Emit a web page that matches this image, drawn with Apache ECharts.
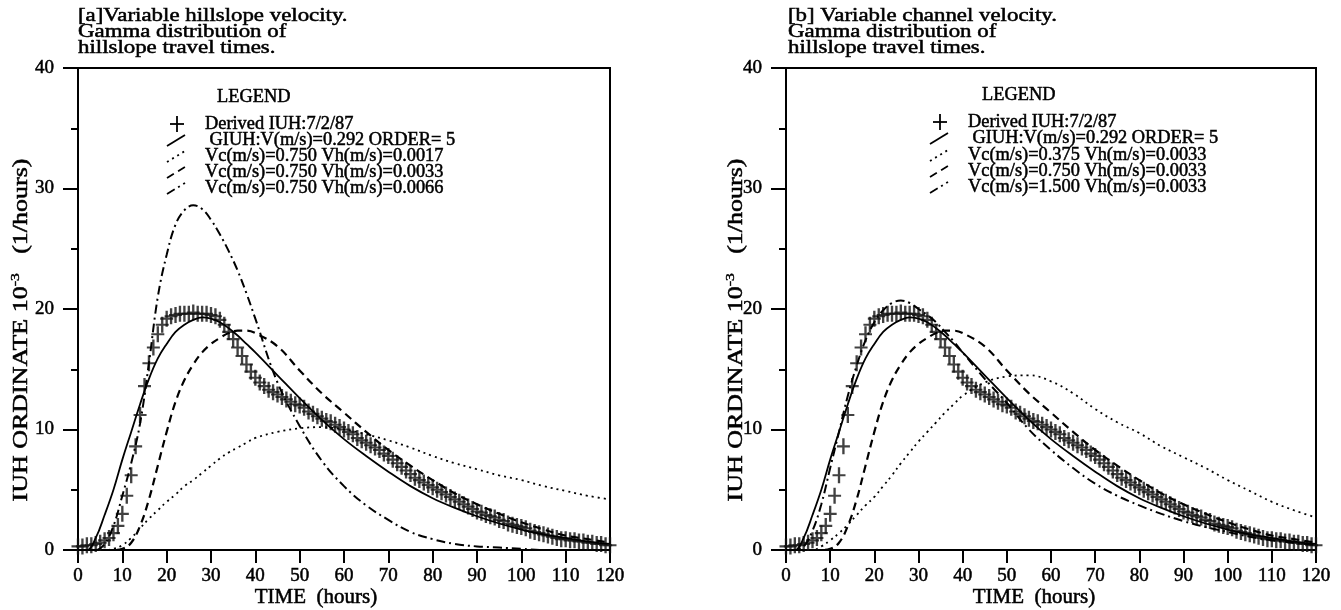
<!DOCTYPE html>
<html><head><meta charset="utf-8">
<script src="https://cdn.jsdelivr.net/npm/echarts@6/dist/echarts.min.js"></script>
<style>html,body{margin:0;padding:0;background:#fff}#c{width:1341px;height:610px}</style>
</head><body><div id="c"></div><script>
// ---- data ----
const derivedTimes = [0,1,2,3,4,5,6,7,8,9,10,11,12,13,14,15,16,17,18,19,20,21,22,23,24,25,26,27,28,29,30,31,32,33,34,35,36,37,38,39,40,41,42,43,44,45,46,47,48,49,50,51,52,53,54,55,56,57,58,59,60,61,62,63,64,65,66,67,68,69,70,71,72,73,74,75,76,77,78,79,80,81,82,83,84,85,86,87,88,89,90,91,92,93,94,95,96,97,98,99,100,101,102,103,104,105,106,107,108,109,110,111,112,113,114,115,116,117,118,119,120];
const derivedIUH = [0.3,0.3,0.4,0.4,0.5,0.6,0.8,1.0,1.4,2.0,
  3.0,4.5,6.2,8.6,11.2,13.6,15.5,16.8,17.9,18.7,
  19.2,19.4,19.5,19.6,19.6,19.6,19.7,19.6,19.6,19.6,
  19.5,19.4,19.1,18.7,18.1,17.5,16.8,16.1,15.4,14.8,
  14.3,13.9,13.6,13.3,13.1,12.9,12.7,12.5,12.3,12.1,
  12.0,11.8,11.5,11.3,11.1,10.9,10.7,10.6,10.4,10.2,
  10.0,9.8,9.6,9.3,9.1,8.9,8.7,8.5,8.3,8.0,
  7.8,7.5,7.2,6.9,6.6,6.3,6.0,5.8,5.6,5.4,
  5.2,5.0,4.8,4.6,4.4,4.2,4.0,3.8,3.6,3.4,
  3.2,3.1,2.9,2.8,2.7,2.5,2.4,2.2,2.1,2.0,
  1.9,1.8,1.6,1.5,1.4,1.3,1.2,1.1,1.0,0.9,
  0.9,0.8,0.8,0.7,0.7,0.6,0.6,0.5,0.5,0.4,0.4];
const curveTimes = [0,2,4,6,8,10,12,14,16,18,20,22,24,26,28,30,32,34,36,38,40,45,50,55,60,65,70,75,80,85,90,95,100,105,110,115,120];
const giuh      = [0,0,1.0,2.9,5.0,7.5,9.8,12.1,14.2,15.9,17.1,18.1,18.7,19.1,19.3,19.2,18.9,18.4,17.8,17.1,16.4,14.5,12.6,10.8,9.2,7.8,6.5,5.3,4.3,3.5,2.8,2.2,1.7,1.3,1.0,0.7,0.5];
const aVh0017   = [0,0,0,0,0.1,0.4,1.0,1.8,2.6,3.3,4.0,4.6,5.3,5.8,6.4,7.0,7.6,8.1,8.5,8.9,9.3,9.8,10.1,10.2,10.0,9.6,9.1,8.5,7.8,7.2,6.7,6.2,5.8,5.3,4.9,4.5,4.2];
const vc075vh0033 = [0,0,0,0,0,0.1,0.6,2.0,4.2,7.0,9.8,12.3,14.1,15.4,16.4,17.1,17.6,18.0,18.2,18.2,18.0,16.9,14.9,13.0,11.4,9.8,8.3,7.0,5.8,4.7,3.8,3.0,2.3,1.7,1.2,0.9,0.6];
const aVh0066   = [0,0,0,0.5,2.0,4.5,7.2,10.5,15.5,21.0,24.5,27.0,28.2,28.6,28.3,27.4,26.2,24.8,23.2,21.3,19.2,13.9,10.3,7.4,5.3,3.7,2.5,1.5,0.9,0.5,0.3,0.2,0.1,0,0,0,0];
const bVc0375   = [0,0,0,0,0.3,0.8,1.4,2.1,2.9,3.7,4.4,5.3,6.2,7.2,8.1,9.0,9.8,10.6,11.4,12.1,12.8,13.9,14.4,14.5,14.0,13.0,11.7,10.6,9.7,8.6,7.7,6.8,5.8,4.9,4.0,3.3,2.7];
const bVc1500   = [0,0,0.3,1.6,3.8,6.8,9.8,12.8,15.3,17.4,18.9,19.9,20.5,20.7,20.5,20.0,19.5,18.9,18.1,17.3,16.4,14.2,12.2,10.0,8.3,6.8,5.5,4.5,3.7,3.0,2.4,1.9,1.5,1.1,0.8,0.6,0.4];

const titleA = ['[a]Variable hillslope velocity.', 'Gamma distribution of', 'hillslope travel times.'];
const titleB = ['[b] Variable channel velocity.', 'Gamma distribution of', 'hillslope travel times.'];
const legendA = ['Derived IUH:7/2/87', ' GIUH:V(m/s)=0.292 ORDER= 5', 'Vc(m/s)=0.750 Vh(m/s)=0.0017', 'Vc(m/s)=0.750 Vh(m/s)=0.0033', 'Vc(m/s)=0.750 Vh(m/s)=0.0066'];
const legendB = ['Derived IUH:7/2/87', ' GIUH:V(m/s)=0.292 ORDER= 5', 'Vc(m/s)=0.375 Vh(m/s)=0.0033', 'Vc(m/s)=0.750 Vh(m/s)=0.0033', 'Vc(m/s)=1.500 Vh(m/s)=0.0033'];

// ---- styling ----
const FONT = "'Liberation Serif', 'DejaVu Serif', serif";
const DASH = [8, 5], DOT = [2, 4], DASHDOT = [9, 4, 2, 4];
const pairs = (xs, ys) => xs.map((x, i) => [x, ys[i]]);
const PLUS = 'path://M4.1,0 H5.9 V4.35 H10 V5.65 H5.9 V10 H4.1 V5.65 H0 V4.35 H4.1 Z';
const HEAVY = { textBorderColor: '#000', textBorderWidth: 0.5 };

function mkX(i) {
  return {
    type: 'value', gridIndex: i, min: 0, max: 120, interval: 10,
    axisLine: { lineStyle: { color: '#000', width: 2 } },
    axisTick: { length: 13, lineStyle: { color: '#000', width: 2 } },
    axisLabel: Object.assign({ color: '#000', fontFamily: FONT, fontSize: 19, margin: 17 }, HEAVY),
    splitLine: { show: false }
  };
}
function mkY(i) {
  return {
    type: 'value', gridIndex: i, min: 0, max: 40, interval: 10,
    axisLine: { show: true, lineStyle: { color: '#000', width: 2 } },
    axisTick: { show: true, length: 15, lineStyle: { color: '#000', width: 2 } },
    minorTick: { show: true, splitNumber: 2, length: 7, lineStyle: { color: '#000', width: 2 } },
    axisLabel: Object.assign({ color: '#000', fontFamily: FONT, fontSize: 19, margin: 24 }, HEAVY),
    splitLine: { show: false }
  };
}
function line(i, ys, type, width) {
  return {
    type: 'line', xAxisIndex: i, yAxisIndex: i, data: pairs(curveTimes, ys),
    smooth: 0.4, showSymbol: false, silent: true,
    lineStyle: { color: '#000', width: width || 1.8, type: type }
  };
}
function derived(i) {
  return {
    type: 'scatter', xAxisIndex: i, yAxisIndex: i, data: pairs(derivedTimes, derivedIUH),
    symbol: PLUS, symbolSize: [13, 16], itemStyle: { color: '#111' }, silent: true
  };
}

// ---- graphics: titles, legends, axis names ----
const g = [];
function txt(x, y, text, size, sx, extra) {
  g.push({ type: 'text', x: x, y: y, scaleX: sx,
    style: Object.assign({ text: text, font: size + "px " + FONT, fill: '#000', stroke: '#000', lineWidth: 0.5 }, extra || {}) });
}
function title(x, lines) {
  txt(x, 8, lines.join('\n'), 18, 1.27, { lineHeight: 16 });
}
function legend(lx, tx, ys, labels, legendX) {
  txt(legendX, ys[0] - 27, 'LEGEND', 18, 1.02, { verticalAlign: 'middle' });
  const styles = [null, 'solid', DOT, DASH, DASHDOT];
  labels.forEach((t, k) => {
    const y = ys[k];
    txt(tx, y, t, 18, 1.02, { verticalAlign: 'middle' });
    if (k === 0) {
      g.push({ type: 'line', shape: { x1: lx + 3, y1: y, x2: lx + 17, y2: y }, style: { stroke: '#000', lineWidth: 1.8 } });
      g.push({ type: 'line', shape: { x1: lx + 10, y1: y - 8, x2: lx + 10, y2: y + 8 }, style: { stroke: '#000', lineWidth: 1.8 } });
    } else {
      g.push({ type: 'line', shape: { x1: lx, y1: y + 6, x2: lx + 18, y2: y - 5 },
        style: { stroke: '#000', lineWidth: 1.8, lineDash: styles[k] === 'solid' ? null : styles[k] } });
    }
  });
}
function yName(x, y) {
  g.push({ type: 'text', x: x, y: y, rotation: Math.PI / 2, scaleX: 1.3,
    style: { text: '{n|IUH ORDINATE 10}{s|-3}{n|   (1/hours)}', fill: '#000', align: 'center', verticalAlign: 'middle',
      rich: { n: { font: "20px " + FONT, fill: '#000', lineHeight: 24, stroke: '#000', lineWidth: 0.5 },
              s: { font: "12px " + FONT, fill: '#000', verticalAlign: 'top', lineHeight: 24, stroke: '#000', lineWidth: 0.4 } } } });
}
function xName(x) {
  txt(x, 598, 'TIME  (hours)', 20, 1.05, { align: 'center', verticalAlign: 'middle' });
}
title(78, titleA); title(788, titleB);
legend(167, 205, [124, 140, 156, 172, 188], legendA, 217);
legend(930, 968, [122, 138, 155, 171, 187], legendB, 982);
yName(22, 330); yName(737, 330);
xName(316); xName(1034);

const option = {
  animation: false,
  backgroundColor: '#fff',
  grid: [
    { left: 78, right: 731, top: 68, bottom: 60, show: true, borderColor: '#000', borderWidth: 2, backgroundColor: 'transparent' },
    { left: 786, right: 25, top: 68, bottom: 60, show: true, borderColor: '#000', borderWidth: 2, backgroundColor: 'transparent' }
  ],
  xAxis: [mkX(0), mkX(1)],
  yAxis: [mkY(0), mkY(1)],
  series: [
    derived(0),
    line(0, giuh, 'solid', 1.8),
    line(0, aVh0017, DOT, 1.8),
    line(0, vc075vh0033, DASH, 2.2),
    line(0, aVh0066, DASHDOT, 2),
    derived(1),
    line(1, giuh, 'solid', 1.8),
    line(1, bVc0375, DOT, 1.8),
    line(1, vc075vh0033, DASH, 2.2),
    line(1, bVc1500, DASHDOT, 2)
  ],
  graphic: g
};
echarts.init(document.getElementById('c')).setOption(option);
</script></body></html>
